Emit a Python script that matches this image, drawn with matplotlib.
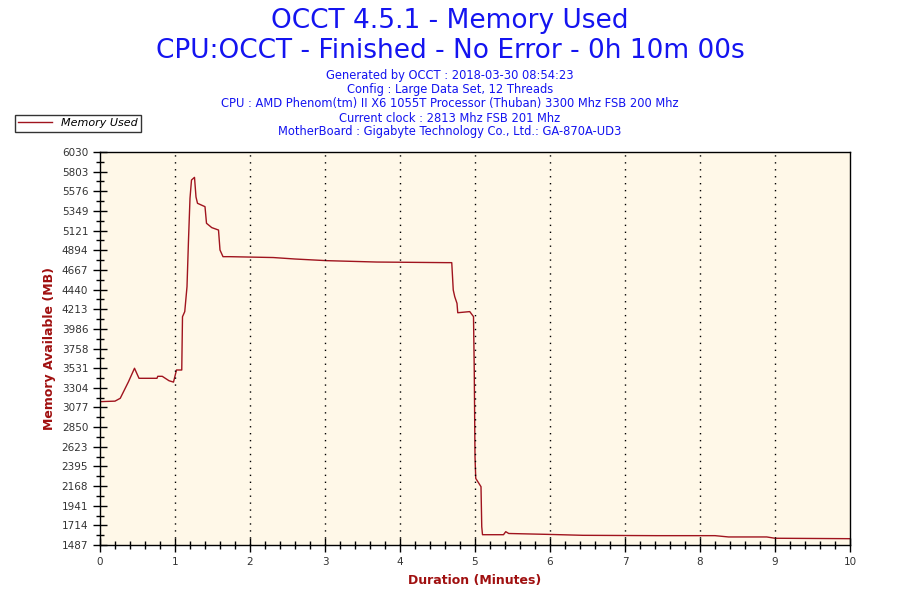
import numpy as np
import matplotlib
matplotlib.use("Agg")
import matplotlib.pyplot as plt
from matplotlib.ticker import FixedLocator, MultipleLocator

# -----------------------------
# Data
# -----------------------------
minutes = [0.00, 0.20, 0.27, 0.38, 0.46, 0.52, 0.76, 0.77, 0.83, 0.86, 0.92,
           0.98, 1.02, 1.09, 1.10, 1.13, 1.16, 1.18, 1.20, 1.22, 1.26, 1.28,
           1.30, 1.40, 1.42, 1.49, 1.58, 1.60, 1.64, 1.73, 2.31, 2.60, 3.02,
           3.69, 4.62, 4.69, 4.71, 4.73, 4.76, 4.77, 4.93, 4.98, 4.99, 5.00,
           5.01, 5.08, 5.09, 5.10, 5.38, 5.41, 5.45, 5.96, 6.44, 7.42, 8.20,
           8.38, 8.89, 9.00, 10.00]
memory_mb = [3144, 3150, 3183, 3375, 3530, 3414, 3414, 3437, 3437, 3420, 3386,
             3370, 3510, 3510, 4126, 4185, 4473, 5013, 5495, 5706, 5737, 5510,
             5437, 5398, 5206, 5156, 5128, 4897, 4820, 4820, 4810, 4793, 4774,
             4758, 4751, 4751, 4435, 4357, 4280, 4172, 4185, 4127, 3510, 2508,
             2257, 2161, 1698, 1606, 1606, 1641, 1620, 1610, 1599, 1595, 1595,
             1580, 1580, 1565, 1560]

y_ticks = [1487, 1714, 1941, 2168, 2395, 2623, 2850, 3077, 3304, 3531, 3758,
           3986, 4213, 4440, 4667, 4894, 5121, 5349, 5576, 5803, 6030]
x_ticks = [0, 1, 2, 3, 4, 5, 6, 7, 8, 9, 10]

title_lines = ["OCCT 4.5.1 - Memory Used",
               "CPU:OCCT - Finished - No Error - 0h 10m 00s"]
info_lines = ["Generated by OCCT : 2018-03-30 08:54:23",
              "Config : Large Data Set, 12 Threads",
              "CPU : AMD Phenom(tm) II X6 1055T Processor (Thuban) 3300 Mhz FSB 200 Mhz",
              "Current clock : 2813 Mhz FSB 201 Mhz",
              "MotherBoard : Gigabyte Technology Co., Ltd.: GA-870A-UD3"]

LINE_COLOR = "#A0141E"
LABEL_COLOR = "#A01010"
TITLE_COLOR = "#1414F0"

# -----------------------------
# Figure
# -----------------------------
fig = plt.figure(figsize=(9, 6), dpi=100)
ax = fig.add_axes([100 / 900, 55 / 600, 750 / 900, 393 / 600])
ax.set_facecolor("#FFF8E8")

ax.plot(minutes, memory_mb, color=LINE_COLOR, linewidth=1.0,
        label="Memory Used")

ax.set_xlim(0, 10)
ax.set_ylim(y_ticks[0], y_ticks[-1])

ax.xaxis.set_major_locator(FixedLocator(x_ticks))
ax.xaxis.set_minor_locator(MultipleLocator(0.2))
ax.set_xticklabels([str(v) for v in x_ticks])
step = (y_ticks[-1] - y_ticks[0]) / (len(y_ticks) - 1)
ax.yaxis.set_major_locator(FixedLocator(y_ticks))
ax.yaxis.set_minor_locator(FixedLocator([v + step / 2 for v in y_ticks[:-1]]))
ax.set_yticklabels([str(v) for v in y_ticks])

ax.tick_params(which="major", direction="inout", length=10, width=1,
               labelsize=7.5, labelcolor="#333333", color="black")
ax.tick_params(which="minor", direction="inout", length=6, width=1,
               color="black")

for x in x_ticks[1:-1]:
    ax.axvline(x, color="black", linestyle=(0, (1, 4)), linewidth=1)

for s in ax.spines.values():
    s.set_color("black")
    s.set_linewidth(1)

ax.set_xlabel("Duration (Minutes)", color=LABEL_COLOR, fontsize=9,
              fontweight="bold", labelpad=5)
ax.set_ylabel("Memory Available (MB)", color=LABEL_COLOR, fontsize=9,
              fontweight="bold", labelpad=4)

# Titles
fig.text(0.5, 1 - 21 / 600, title_lines[0], ha="center", va="center",
         fontsize=19, color=TITLE_COLOR)
fig.text(0.5, 1 - 51 / 600, title_lines[1], ha="center", va="center",
         fontsize=19, color=TITLE_COLOR)
for i, line in enumerate(info_lines):
    fig.text(0.5, 1 - (76 + 14 * i) / 600, line, ha="center", va="center",
             fontsize=8.3, color=TITLE_COLOR)

# Legend
leg = fig.legend(loc="upper left", bbox_to_anchor=(15 / 900, 1 - 115 / 600),
                 borderaxespad=0, frameon=True, fancybox=False,
                 edgecolor="black", handlelength=3, borderpad=0.3,
                 prop={"style": "italic", "size": 8})
leg.get_frame().set_linewidth(1)

fig.savefig("out.png", dpi=100, facecolor="white")
